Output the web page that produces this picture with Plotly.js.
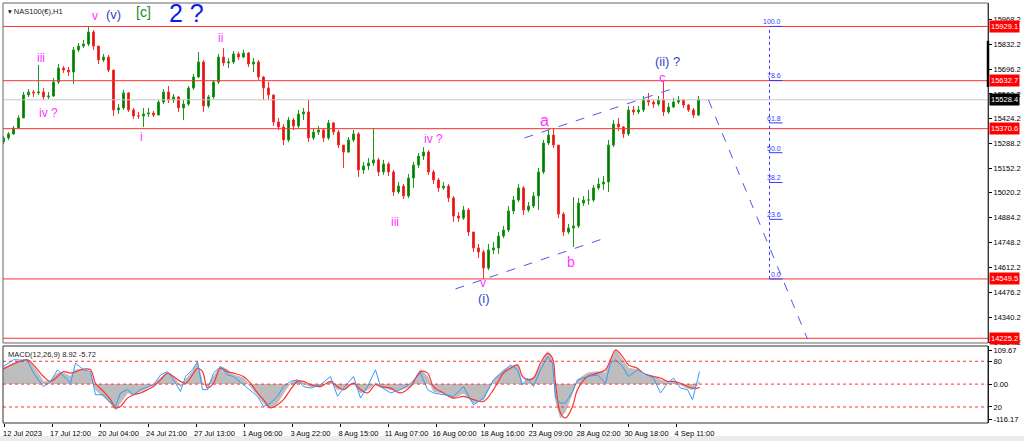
<!DOCTYPE html>
<html><head><meta charset="utf-8">
<script src="https://cdn.plot.ly/plotly-3.0.1.min.js"></script>
<style>html,body{margin:0;padding:0;background:#fff;}#chart{width:1024px;height:441px;}</style>
</head><body><div id="chart"></div>
<script>
// ---- Price data (H1 candles, compressed) ----
const open = [15298,15320,15342,15374,15429,15555,15571,15566,15571,15544,15549,15626,15702,15691,15680,15801,15822,15833,15899,15822,15746,15762,15691,15473,15484,15566,15473,15440,15440,15451,15456,15445,15516,15571,15527,15544,15484,15505,15593,15653,15735,15495,15544,15626,15762,15730,15735,15779,15762,15784,15724,15735,15653,15593,15555,15407,15380,15309,15418,15385,15451,15462,15320,15352,15363,15320,15402,15352,15281,15243,15309,15342,15145,15167,15183,15200,15134,15178,15134,15025,15057,15003,15101,15172,15221,15243,15134,15090,15047,15057,14992,14893,14882,14926,14806,14719,14697,14609,14708,14719,14784,14817,14921,14981,15047,14926,14948,15003,15134,15292,15336,15281,14904,14806,14828,14839,14964,14981,14981,15047,15068,15079,15281,15396,15380,15342,15473,15462,15473,15527,15516,15505,15527,15462,15489,15516,15527,15500,15473,15445];
const high = [15331,15352,15385,15445,15571,15587,15582,15719,15593,15571,15648,15724,15713,15708,15817,15839,15855,15926,15910,15822,15779,15773,15691,15505,15582,15571,15484,15462,15484,15484,15467,15527,15587,15604,15560,15549,15527,15604,15669,15790,15746,15555,15637,15779,15811,15757,15795,15790,15801,15790,15757,15746,15658,15626,15555,15429,15396,15434,15429,15473,15484,15527,15374,15385,15374,15418,15407,15363,15281,15325,15363,15352,15189,15210,15374,15210,15200,15189,15145,15079,15068,15123,15189,15238,15270,15254,15145,15101,15079,15068,15003,14915,14948,14937,14806,14741,14708,14741,14751,14806,14839,14948,15003,15068,15057,14970,15025,15156,15309,15363,15374,15281,14915,14850,14997,14992,15003,15036,15063,15101,15112,15309,15418,15429,15385,15495,15495,15495,15549,15566,15527,15549,15630,15511,15538,15549,15522,15505,15484,15549];
const low = [15287,15309,15336,15374,15429,15544,15544,15555,15527,15533,15544,15615,15675,15658,15615,15790,15811,15822,15801,15724,15735,15680,15440,15451,15473,15462,15424,15424,15380,15434,15434,15445,15505,15511,15511,15462,15418,15495,15582,15648,15462,15484,15533,15615,15713,15702,15724,15746,15757,15708,15680,15637,15527,15527,15385,15363,15281,15298,15363,15374,15418,15298,15309,15336,15298,15309,15336,15265,15156,15238,15298,15107,15123,15145,15167,15112,15118,15112,15003,15014,14986,14992,15047,15156,15200,15118,15068,15025,15036,14970,14861,14861,14872,14784,14697,14664,14550,14598,14686,14686,14773,14806,14904,14970,14899,14915,14937,14926,15123,15281,15265,14882,14784,14795,14724,14828,14948,14954,14970,15036,15036,15025,15270,15358,15320,15331,15445,15451,15462,15495,15484,15495,15440,15451,15484,15505,15484,15462,15429,15440];
const close = [15320,15342,15374,15429,15555,15571,15566,15571,15544,15549,15626,15702,15691,15680,15801,15822,15833,15899,15822,15746,15762,15691,15473,15484,15566,15473,15440,15440,15451,15456,15445,15516,15571,15527,15544,15484,15505,15593,15653,15735,15495,15544,15626,15762,15730,15735,15779,15762,15784,15724,15735,15653,15593,15555,15407,15380,15309,15418,15385,15451,15462,15320,15352,15363,15320,15402,15352,15281,15243,15309,15342,15145,15167,15183,15200,15134,15178,15134,15025,15057,15003,15101,15172,15221,15243,15134,15090,15047,15057,14992,14893,14882,14926,14806,14719,14697,14609,14708,14719,14784,14817,14921,14981,15047,14926,14948,15003,15134,15292,15336,15281,14904,14806,14828,14839,14964,14981,14981,15047,15068,15079,15281,15396,15380,15342,15473,15462,15473,15527,15516,15505,15527,15462,15489,15516,15527,15500,15473,15445,15528.4];

// ---- MACD(12,26,9) ----
const macdBar = [0,2,4.8,6,8,9.4,10.8,12,13.4,14.4,16,17.4,18.4,20,21.4,22.4,23.4,24.8,26,27.4,28.8,30,31.4,32.8,34,35.4,36.4,37.8,38.8,39.8,40.8,42,43.4,44.8,46,48,49.4,50.8,52,53.4,54.8,56,57.4,58.8,60,61.4,63.4,65.4,66.8,68,70,71.4,72.8,74.4,75.4,77.4,79.4,81.4,83.4,84.8,86,88,90,92,94,96,98,100,101.4,102.8,103.8,104.8,106,107.4,108.8,109.8,110.4,111.4,112.4,113.8,114.8,116.8,118.8,120.4,121.4,122.4,123.8,125,126.8,128,130,131.4,132.8,134,135.4,136.8,137.8,138.8,139.2];
const macdMain = [52,69,80,58,9,9,36,36,25,47,47,36,-18,-40,-62,-84,-62,-29,-35,-24,-13,-2,20,36,25,-8,14,41,69,3,-8,25,58,47,30,20,-8,-35,-62,-78,-62,-29,3,14,3,-8,-8,9,-18,-13,3,-29,-18,3,-8,-18,-18,-8,47,25,-24,-29,-46,-29,-62,-51,14,47,58,63,-2,14,20,58,107,80,-51,-111,-89,-29,14,36,41,36,80,112,80,52,47,30,25,14,3,9,-2,-13,-18,-2,10];
const macdSignal = [50,66,80,63,25,9,25,41,36,40,49,47,3,-24,-51,-78,-73,-46,-35,-29,-18,-8,14,36,25,9,3,30,52,41,-13,3,52,41,36,25,3,-29,-51,-78,-68,-51,-18,9,9,-2,-8,9,-8,-18,3,-18,-29,-2,-8,-13,-29,-8,41,36,-8,-29,-46,-40,-51,-57,-18,36,52,63,25,14,20,69,101,85,3,-95,-111,-73,-18,25,36,47,80,112,90,63,52,36,25,20,9,9,3,-8,-13,-13,-10];
const macdFast = [58,80,78,36,-8,9,47,25,3,69,47,41,-35,-35,-62,-73,-29,-18,-35,-18,-8,-2,30,41,14,-24,25,47,74,-18,-18,36,58,30,25,-2,-18,-40,-73,-62,-40,-8,9,14,-8,-13,-2,25,-40,-13,25,-46,-8,47,-8,-29,-18,3,36,-18,-29,-35,-40,-8,-68,-46,14,41,63,47,-2,20,-8,47,90,69,-46,-62,-62,-24,14,25,30,3,69,80,58,25,47,36,20,-29,3,20,-13,-18,-51,14,41];
const macdLevels = [75, 0, -75];
const macdTickVals = [109.67, 75, 0, -75, -116.17];
const macdTickText = ["109.67", "80", "0.00", "20", "-116.17"];

// ---- Axis labels ----
const priceTicks = [15968.2,15832.2,15696.2,15560.2,15424.2,15288.2,15152.2,15020.2,14884.2,14748.2,14612.2,14476.2,14340.2,14204.2];
const timeTickBars = [0.2,9.8,19.4,29,38.6,48.2,57.8,67.4,77,86.6,96.2,105.8,115.4,125,134.6];
const timeTickText = ["12 Jul 2023","17 Jul 12:00","20 Jul 04:00","24 Jul 21:00","27 Jul 13:00","1 Aug 06:00","3 Aug 22:00","8 Aug 15:00","11 Aug 07:00","16 Aug 00:00","18 Aug 16:00","23 Aug 09:00","28 Aug 02:00","30 Aug 18:00","4 Sep 11:00"];

// ---- Horizontal levels ----
const levels = [15929.1, 15632.7, 15370.6, 14549.5, 14225.2];
const currentPrice = 15528.4;

// ---- Fibonacci ----
const fibLow = 14549.5, fibHigh = 15929.1;
const fibLevels = [0, 23.6, 38.2, 50, 61.8, 78.6, 100];
const fibBar = [153.2, 155.8];

// ---- Trend lines (bar, price) ----
const trendLines = [
  {x:[90.4,119.8], y:[14495,14768]},
  {x:[104.2,133.6], y:[15320,15587]},
  {x:[141,160.8], y:[15527,14221]}
];

// ---- Wave labels ----
const waveText  = ["v","(v)","[c]","2 ?","iii","iv ?","i","ii","iv ?","iii","v","(i)","a","b","c","(ii) ?"];
const waveBar   = [18.2,22,28,36.6,7.4,9,27.6,43.4,86,78.2,95.8,96,108.2,113.4,131.8,132.8];
const wavePrice = [15986,15997,16008,16003,15757,15456,15325,15866,15314,14861,14527,14440,15413,14642,15650,15736];
const waveColor = ["#ff33ff","#3344cc","#1a8a1a","#0a1ee6","#ff33ff","#ff33ff","#ff33ff","#ff33ff","#ff33ff","#ff33ff","#ff33ff","#3344cc","#ff33ff","#ff33ff","#ff33ff","#3344cc"];
const waveSize  = [12,13,14,25,12,12,12,12,12,12,12,13,16,14,13,13];

const bars = close.map((_, i) => i);
const FONT = "Liberation Sans, Arial, DejaVu Sans, sans-serif";

const traces = [
  {type:'candlestick', x:bars, open:open, high:high, low:low, close:close,
   increasing:{line:{color:'#1a9a1a', width:1}, fillcolor:'#0e6e0e'},
   decreasing:{line:{color:'#ff2a2a', width:1}, fillcolor:'#c02020'},
   whiskerwidth:0, hoverinfo:'none', xaxis:'x', yaxis:'y'},
  {type:'scatter', mode:'lines', x:macdBar, y:macdMain, fill:'tozeroy', fillcolor:'#bdbdbd',
   line:{color:'#bdbdbd', width:1}, xaxis:'x2', yaxis:'y2', hoverinfo:'none'},
  {type:'scatter', mode:'lines', x:macdBar, y:macdSignal, line:{color:'#ff3030', width:1.2, shape:'spline'},
   xaxis:'x2', yaxis:'y2', hoverinfo:'none'},
  {type:'scatter', mode:'lines', x:macdBar, y:macdFast, line:{color:'#3399ff', width:1},
   xaxis:'x2', yaxis:'y2', hoverinfo:'none'}
];

const shapes = [];
const annotations = [];

// level lines + labels
levels.forEach(v => {
  shapes.push({type:'line', xref:'paper', x0:0, x1:1, yref:'y', y0:v, y1:v, line:{color:'#ff3030', width:1}});
  annotations.push({xref:'paper', x:1, xanchor:'left', xshift:1, yref:'y', y:v, yanchor:'middle',
    text:v.toFixed(1), showarrow:false, bgcolor:'#ff0000', borderpad:1,
    font:{family:FONT, size:7.5, color:'#ffffff'}});
});
shapes.push({type:'line', xref:'paper', x0:0, x1:1, yref:'y', y0:currentPrice, y1:currentPrice, line:{color:'#c8c8c8', width:1}});
annotations.push({xref:'paper', x:1, xanchor:'left', xshift:1, yref:'y', y:currentPrice, yanchor:'middle',
  text:currentPrice.toFixed(1), showarrow:false, bgcolor:'#000000', borderpad:1,
  font:{family:FONT, size:7.5, color:'#ffffff'}});

// fibonacci
shapes.push({type:'line', xref:'x', yref:'y', x0:fibBar[0], x1:fibBar[0], y0:fibLow, y1:fibHigh,
  line:{color:'#3a3aff', width:1, dash:'dot'}});
fibLevels.forEach(l => {
  const p = fibLow + l/100*(fibHigh-fibLow);
  shapes.push({type:'line', xref:'x', yref:'y', x0:fibBar[0], x1:fibBar[1], y0:p, y1:p, line:{color:'#3a3aff', width:1}});
  annotations.push({xref:'x', x:fibBar[1], xanchor:'right', yref:'y', y:p, yanchor:'bottom', yshift:-1,
    text:l.toFixed(1), showarrow:false, font:{family:FONT, size:7, color:'#3a3aff'}});
});

// trend lines
trendLines.forEach(t => {
  shapes.push({type:'line', xref:'x', yref:'y', x0:t.x[0], x1:t.x[1], y0:t.y[0], y1:t.y[1],
    line:{color:'#4a5af0', width:1, dash:'dash'}});
});

// MACD levels
macdLevels.forEach(v => {
  shapes.push({type:'line', xref:'paper', x0:0, x1:1, yref:'y2', y0:v, y1:v, line:{color:'#ff3030', width:1, dash:'dot'}});
});

// panel frames
shapes.push({type:'rect', xref:'paper', yref:'paper', x0:0, x1:1, y0:0.1905, y1:1, line:{color:'#666', width:1}, layer:'above'});
shapes.push({type:'rect', xref:'paper', yref:'paper', x0:0, x1:1, y0:0, y1:0.1833, line:{color:'#333', width:1}, layer:'above'});
shapes.push({type:'line', xref:'paper', yref:'paper', x0:1, x1:1, y0:0.8, y1:0.91, line:{color:'#000', width:2.5}});
shapes.push({type:'rect', xref:'paper', yref:'paper', x0:-0.01, x1:1.05, y0:-0.05, y1:-0.031, fillcolor:'#ececec', line:{width:0}, layer:'below'});

// wave labels
waveText.forEach((t, i) => {
  annotations.push({xref:'x', yref:'y', x:waveBar[i], y:wavePrice[i], text:t, showarrow:false,
    xanchor:'center', yanchor:'middle', font:{family:FONT, size:waveSize[i], color:waveColor[i]}});
});

// headers
annotations.push({xref:'paper', yref:'paper', x:0, xshift:3, y:1, yshift:-2, xanchor:'left', yanchor:'top',
  text:'▾ NAS100(€),H1', showarrow:false, font:{family:FONT, size:7.5, color:'#222'}});
annotations.push({xref:'paper', yref:'paper', x:0, xshift:3, y:0.1833, yshift:-2, xanchor:'left', yanchor:'top',
  text:'MACD(12,26,9) 8.92 -5.72', showarrow:false, font:{family:FONT, size:7.5, color:'#222'}});

const layout = {
  width:1024, height:441,
  margin:{l:3, r:36, t:3, b:18},
  paper_bgcolor:'#ffffff', plot_bgcolor:'#ffffff',
  showlegend:false, hovermode:false, boxgap:0.45,
  font:{family:FONT, size:7.5, color:'#000'},
  xaxis:{domain:[0,1], range:[-0.1,196.9], anchor:'y', showticklabels:false, showgrid:false, zeroline:false,
         rangeslider:{visible:false}, fixedrange:true},
  xaxis2:{domain:[0,1], range:[-0.1,196.9], anchor:'y2', matches:'x', showgrid:false, zeroline:false,
          tickmode:'array', tickvals:timeTickBars, ticktext:timeTickText, ticks:'outside', ticklen:3,
          tickcolor:'#000', ticklabelshift:18, ticklabelstandoff:0,
          tickfont:{family:FONT, size:7.5, color:'#000'}, showline:false},
  yaxis:{domain:[0.1905,1], range:[14199.5,16057.3], side:'right', anchor:'x', showgrid:false, zeroline:false,
         tickmode:'array', tickvals:priceTicks, ticktext:priceTicks.map(v=>v.toFixed(1)),
         ticks:'outside', ticklen:3, tickcolor:'#000', showline:true, linecolor:'#000', linewidth:1,
         tickfont:{family:FONT, size:7.5, color:'#000'}},
  yaxis2:{domain:[0,0.1833], range:[-127.5,125], side:'right', anchor:'x2', showgrid:false, zeroline:false,
          tickmode:'array', tickvals:macdTickVals, ticktext:macdTickText,
          ticks:'outside', ticklen:3, tickcolor:'#000', showline:true, linecolor:'#000',
          tickfont:{family:FONT, size:7.5, color:'#000'}},
  shapes:shapes, annotations:annotations
};

Plotly.newPlot('chart', traces, layout, {displayModeBar:false, staticPlot:true});
</script>
</body></html>
